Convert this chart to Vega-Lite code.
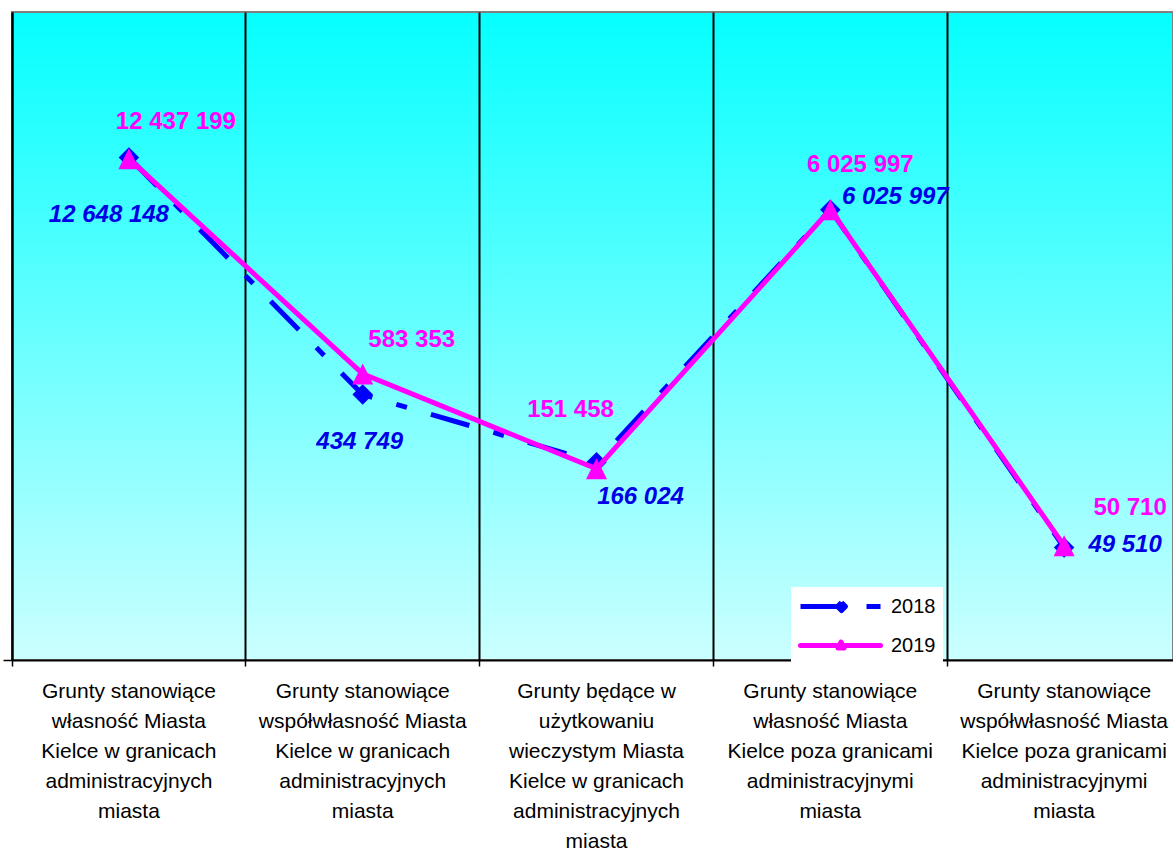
{
  "$schema": "https://vega.github.io/schema/vega-lite/v6.json",
  "width": 1161,
  "height": 648,
  "autosize": {"type": "none"},
  "padding": {"left": 12, "top": 12, "right": 0, "bottom": 188},
  "background": "white",
  "config": {
    "locale": {"number": {"decimal": ",", "thousands": " ", "grouping": [3], "currency": ["", " zł"]}},
    "view": {
      "stroke": "#808080",
      "strokeWidth": 2,
      "fill": {"gradient": "linear", "x1": 0, "y1": 0, "x2": 0, "y2": 1, "stops": [{"offset": 0, "color": "#05FFFF"}, {"offset": 1, "color": "#CCFFFF"}]}
    }
  },
  "data": {
    "values": [
      {"cat": "Grunty stanowiące\nwłasność Miasta\nKielce w granicach\nadministracyjnych\nmiasta", "n": 1, "year": "2018", "value": 12648148},
      {"cat": "Grunty stanowiące\nwspółwłasność Miasta\nKielce w granicach\nadministracyjnych\nmiasta", "n": 2, "year": "2018", "value": 434749},
      {"cat": "Grunty będące w\nużytkowaniu\nwieczystym Miasta\nKielce w granicach\nadministracyjnych\nmiasta", "n": 3, "year": "2018", "value": 166024},
      {"cat": "Grunty stanowiące\nwłasność Miasta\nKielce poza granicami\nadministracyjnymi\nmiasta", "n": 4, "year": "2018", "value": 6025997},
      {"cat": "Grunty stanowiące\nwspółwłasność Miasta\nKielce poza granicami\nadministracyjnymi\nmiasta", "n": 5, "year": "2018", "value": 49510},
      {"cat": "Grunty stanowiące\nwłasność Miasta\nKielce w granicach\nadministracyjnych\nmiasta", "n": 1, "year": "2019", "value": 12437199},
      {"cat": "Grunty stanowiące\nwspółwłasność Miasta\nKielce w granicach\nadministracyjnych\nmiasta", "n": 2, "year": "2019", "value": 583353},
      {"cat": "Grunty będące w\nużytkowaniu\nwieczystym Miasta\nKielce w granicach\nadministracyjnych\nmiasta", "n": 3, "year": "2019", "value": 151458},
      {"cat": "Grunty stanowiące\nwłasność Miasta\nKielce poza granicami\nadministracyjnymi\nmiasta", "n": 4, "year": "2019", "value": 6025997},
      {"cat": "Grunty stanowiące\nwspółwłasność Miasta\nKielce poza granicami\nadministracyjnymi\nmiasta", "n": 5, "year": "2019", "value": 50710}
    ]
  },
  "encoding": {
    "x": {
      "field": "cat", "type": "nominal", "sort": null, "bandPosition": 0.5,
      "scale": {"type": "band", "paddingInner": 0, "paddingOuter": 0, "range": [0, 1169]},
      "axis": {
        "title": null, "bandPosition": 0, "labelAngle": 0,
        "labelExpr": "split(datum.label, '\\n')",
        "labelFont": "Liberation Sans", "labelFontSize": 21, "labelLineHeight": 30, "labelColor": "#000000",
        "labelLimit": 0, "labelOverlap": false, "labelBound": false, "labelPadding": 14, "labelBaseline": "top",
        "domainColor": "#000000", "domainWidth": 2,
        "tickColor": "#000000", "tickWidth": 1.5, "tickSize": 6,
        "grid": true, "gridColor": "#000000", "gridWidth": 2, "gridOpacity": 1
      }
    },
    "y": {
      "field": "value", "type": "quantitative",
      "scale": {"type": "log", "domain": [10000, 100000000], "nice": false},
      "axis": {
        "title": null, "values": [10000], "labels": false, "grid": false,
        "domainColor": "#000000", "domainWidth": 2,
        "tickColor": "#000000", "tickWidth": 1.5, "tickSize": 9
      }
    }
  },
  "layer": [
    {
      "transform": [{"filter": "datum.year == '2018'"}],
      "mark": {"type": "line", "strokeWidth": 5, "strokeDash": [40, 25, 11, 25]},
      "encoding": {
        "color": {
          "field": "year", "type": "nominal",
          "scale": {"domain": ["2018", "2019"], "range": ["#0000FF", "#FF00FF"]},
          "legend": {
            "title": null, "orient": "none", "legendX": 779, "legendY": 575,
            "fillColor": "white", "padding": 7, "rowPadding": 16,
            "symbolSize": 400, "symbolStrokeWidth": 5, "labelOffset": 68,
            "labelFont": "Liberation Sans", "labelFontSize": 20, "labelColor": "#000000",
            "encode": {
              "symbols": {
                "update": {
                  "shape": {"signal": "datum.value == '2018' ? 'M-1,0L7,0M3.1,-0.4L3.5,0L3.1,0.4L2.7,0Z' : 'M-1,0L7,0M3.05,-0.35L3.35,0.25L2.75,0.25Z'"},
                  "strokeDash": {"signal": "datum.value == '2018' ? [46, 20, 14, 20] : [1, 0]"},
                  "strokeCap": {"signal": "datum.value == '2018' ? 'butt' : 'round'"},
                  "strokeJoin": {"value": "round"},
                  "fill": {"signal": "datum.value == '2018' ? '#0000FF' : '#FF00FF'"},
                  "fillOpacity": {"value": 1},
                  "opacity": {"value": 1}
                }
              }
            }
          }
        }
      }
    },
    {
      "transform": [{"filter": "datum.year == '2018'"}],
      "mark": {"type": "point", "shape": "diamond", "size": 420, "filled": true, "color": "#0000FF", "opacity": 1}
    },
    {
      "transform": [{"filter": "datum.year == '2019'"}],
      "mark": {"type": "line", "strokeWidth": 5},
      "encoding": {"color": {"field": "year", "type": "nominal"}}
    },
    {
      "transform": [{"filter": "datum.year == '2019'"}],
      "mark": {"type": "point", "shape": "M0,-1L1,1L-1,1Z", "size": 441, "filled": true, "color": "#FF00FF", "opacity": 1}
    },
    {"transform": [{"filter": "datum.year == '2018' && datum.n == 1"}], "mark": {"type": "text", "dx": -20, "dy": 58, "font": "Liberation Sans", "fontSize": 24, "fontWeight": "bold", "fontStyle": "italic", "color": "#0000E6", "align": "center", "baseline": "middle"}, "encoding": {"text": {"field": "value", "type": "quantitative", "format": ",d"}}},
    {"transform": [{"filter": "datum.year == '2018' && datum.n == 2"}], "mark": {"type": "text", "dx": -3, "dy": 47, "font": "Liberation Sans", "fontSize": 24, "fontWeight": "bold", "fontStyle": "italic", "color": "#0000E6", "align": "center", "baseline": "middle"}, "encoding": {"text": {"field": "value", "type": "quantitative", "format": ",d"}}},
    {"transform": [{"filter": "datum.year == '2018' && datum.n == 3"}], "mark": {"type": "text", "dx": 44, "dy": 35, "font": "Liberation Sans", "fontSize": 24, "fontWeight": "bold", "fontStyle": "italic", "color": "#0000E6", "align": "center", "baseline": "middle"}, "encoding": {"text": {"field": "value", "type": "quantitative", "format": ",d"}}},
    {"transform": [{"filter": "datum.year == '2018' && datum.n == 4"}], "mark": {"type": "text", "dx": 65, "dy": -13, "font": "Liberation Sans", "fontSize": 24, "fontWeight": "bold", "fontStyle": "italic", "color": "#0000E6", "align": "center", "baseline": "middle"}, "encoding": {"text": {"field": "value", "type": "quantitative", "format": ",d"}}},
    {"transform": [{"filter": "datum.year == '2018' && datum.n == 5"}], "mark": {"type": "text", "dx": 61, "dy": -2, "font": "Liberation Sans", "fontSize": 24, "fontWeight": "bold", "fontStyle": "italic", "color": "#0000E6", "align": "center", "baseline": "middle"}, "encoding": {"text": {"field": "value", "type": "quantitative", "format": ",d"}}},
    {"transform": [{"filter": "datum.year == '2019' && datum.n == 1"}], "mark": {"type": "text", "dx": 47, "dy": -37, "font": "Liberation Sans", "fontSize": 24, "fontWeight": "bold", "color": "#FF00FF", "align": "center", "baseline": "middle"}, "encoding": {"text": {"field": "value", "type": "quantitative", "format": ",d"}}},
    {"transform": [{"filter": "datum.year == '2019' && datum.n == 2"}], "mark": {"type": "text", "dx": 49, "dy": -34, "font": "Liberation Sans", "fontSize": 24, "fontWeight": "bold", "color": "#FF00FF", "align": "center", "baseline": "middle"}, "encoding": {"text": {"field": "value", "type": "quantitative", "format": ",d"}}},
    {"transform": [{"filter": "datum.year == '2019' && datum.n == 3"}], "mark": {"type": "text", "dx": -26, "dy": -59, "font": "Liberation Sans", "fontSize": 24, "fontWeight": "bold", "color": "#FF00FF", "align": "center", "baseline": "middle"}, "encoding": {"text": {"field": "value", "type": "quantitative", "format": ",d"}}},
    {"transform": [{"filter": "datum.year == '2019' && datum.n == 4"}], "mark": {"type": "text", "dx": 30, "dy": -45, "font": "Liberation Sans", "fontSize": 24, "fontWeight": "bold", "color": "#FF00FF", "align": "center", "baseline": "middle"}, "encoding": {"text": {"field": "value", "type": "quantitative", "format": ",d"}}},
    {"transform": [{"filter": "datum.year == '2019' && datum.n == 5"}], "mark": {"type": "text", "dx": 66, "dy": -38, "font": "Liberation Sans", "fontSize": 24, "fontWeight": "bold", "color": "#FF00FF", "align": "center", "baseline": "middle"}, "encoding": {"text": {"field": "value", "type": "quantitative", "format": ",d"}}}
  ]
}
